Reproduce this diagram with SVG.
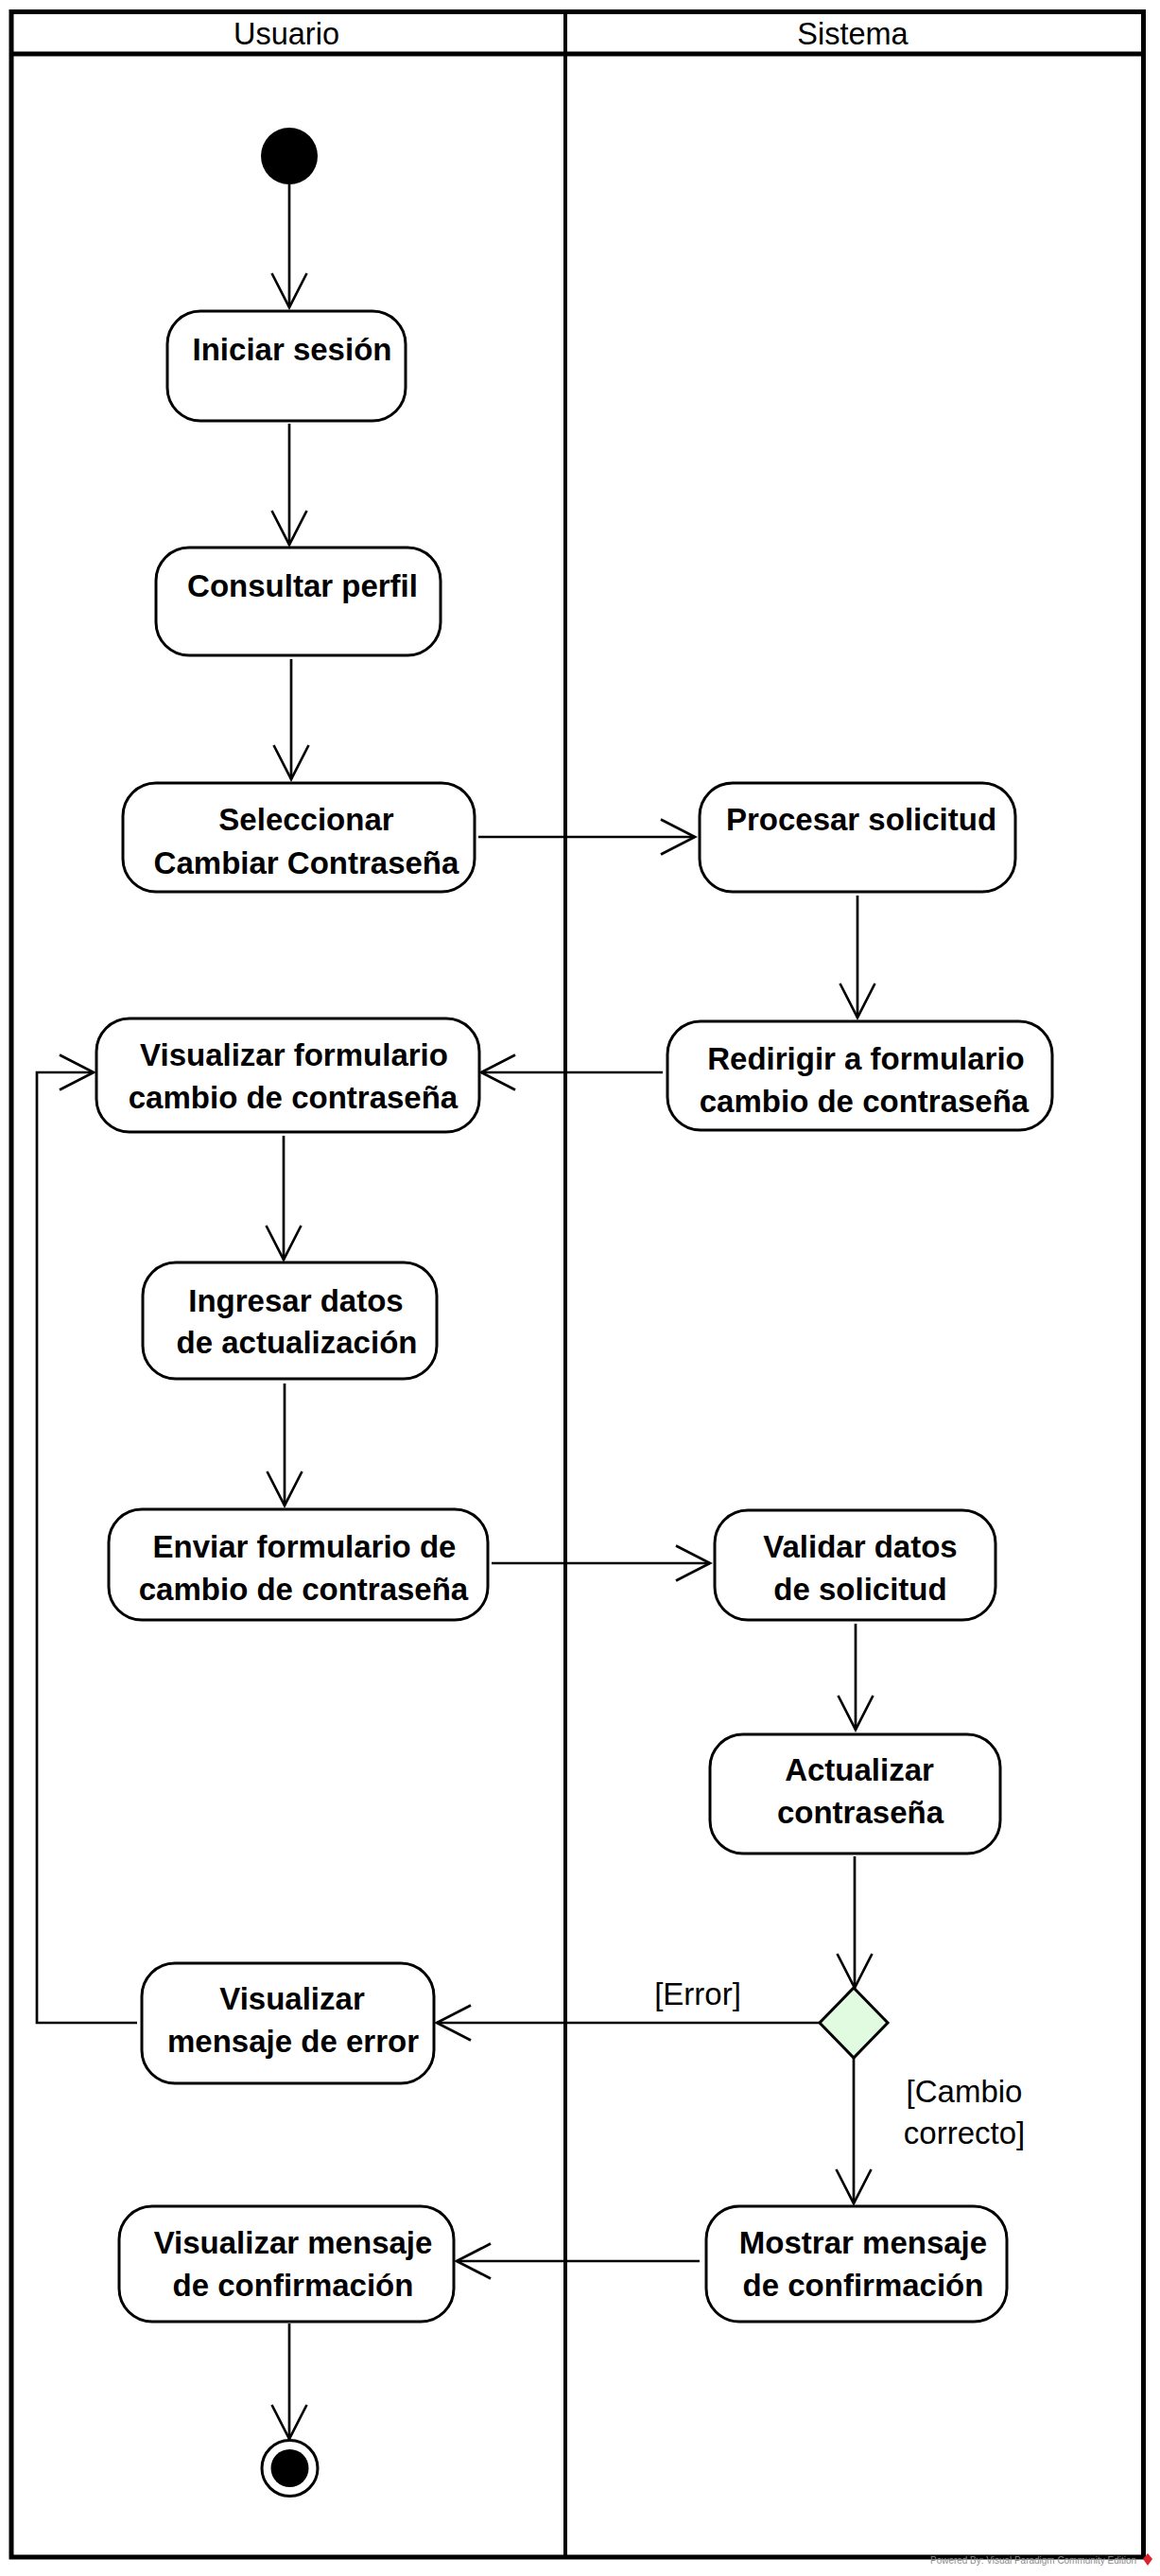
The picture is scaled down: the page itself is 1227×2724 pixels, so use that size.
<svg xmlns="http://www.w3.org/2000/svg" width="1227" height="2724" viewBox="0 0 1227 2724">
<style>
.lane{fill:none;stroke:#000;stroke-width:5}
.div{fill:none;stroke:#000;stroke-width:4}
.hdr{font-family:"Liberation Sans",Arial,sans-serif;font-size:32.5px;fill:#000;text-anchor:middle}
.act{fill:#fff;stroke:#000;stroke-width:3}
.t{font-family:"Liberation Sans",Arial,sans-serif;font-size:33px;font-weight:bold;fill:#000;text-anchor:middle}
.g{font-family:"Liberation Sans",Arial,sans-serif;font-size:33px;fill:#000;text-anchor:middle}
.c{fill:none;stroke:#000;stroke-width:2.7}
</style>
<defs>
<marker id="arr" markerUnits="userSpaceOnUse" markerWidth="44" markerHeight="44" viewBox="-40 -22 44 44" refX="0" refY="0" orient="auto" overflow="visible">
<path d="M-36,-18.5 L0,0 L-36,18.5" fill="none" stroke="#000" stroke-width="2.7"/>
</marker>
</defs>
<rect width="1227" height="2724" fill="#fff"/>
<g id="swimlanes">
<rect class="lane" x="12" y="12.5" width="1197.5" height="2691.5"/>
<line class="lane" x1="12" y1="57" x2="1209.5" y2="57"/>
<line class="div" x1="598" y1="12.5" x2="598" y2="2704"/>
<text class="hdr" x="303" y="47">Usuario</text>
<text class="hdr" x="902" y="47">Sistema</text>
</g>
<g id="connectors">
<path class="c" d="M306,195 V325" marker-end="url(#arr)"/>
<path class="c" d="M306,448 V576" marker-end="url(#arr)"/>
<path class="c" d="M308,697 V824" marker-end="url(#arr)"/>
<path class="c" d="M506,885 H735" marker-end="url(#arr)"/>
<path class="c" d="M907,947 V1076" marker-end="url(#arr)"/>
<path class="c" d="M701,1134 H509" marker-end="url(#arr)"/>
<path class="c" d="M300,1201 V1332" marker-end="url(#arr)"/>
<path class="c" d="M301,1463 V1592" marker-end="url(#arr)"/>
<path class="c" d="M520,1653 H751" marker-end="url(#arr)"/>
<path class="c" d="M905,1717 V1829" marker-end="url(#arr)"/>
<path class="c" d="M904,1963 V2102" marker-end="url(#arr)"/>
<path class="c" d="M867,2139 H462" marker-end="url(#arr)"/>
<text class="g" x="738" y="2120">[Error]</text>
<path class="c" d="M145,2139 H39 V1134 H99" marker-end="url(#arr)"/>
<path class="c" d="M903,2176 V2330" marker-end="url(#arr)"/>
<text class="g" x="1020" y="2223">[Cambio</text>
<text class="g" x="1020" y="2267">correcto]</text>
<path class="c" d="M740,2391 H483" marker-end="url(#arr)"/>
<path class="c" d="M306,2457 V2579" marker-end="url(#arr)"/>
</g>
<g id="start"><circle cx="306" cy="165" r="30" fill="#000"/></g>
<g id="iniciar">
<rect class="act" x="177" y="329" width="252" height="116" rx="35" ry="35"/>
<text class="t" x="309" y="381">Iniciar sesión</text>
</g>
<g id="consultar">
<rect class="act" x="165" y="579" width="301" height="114" rx="35" ry="35"/>
<text class="t" x="320" y="631">Consultar perfil</text>
</g>
<g id="seleccionar">
<rect class="act" x="130" y="828" width="372" height="115" rx="35" ry="35"/>
<text class="t" x="324" y="878">Seleccionar</text>
<text class="t" x="324" y="924">Cambiar Contraseña</text>
</g>
<g id="procesar">
<rect class="act" x="740" y="828" width="334" height="115" rx="35" ry="35"/>
<text class="t" x="911" y="878">Procesar solicitud</text>
</g>
<g id="visualizar-formulario">
<rect class="act" x="102" y="1077" width="405" height="120" rx="35" ry="35"/>
<text class="t" x="311" y="1127">Visualizar formulario</text>
<text class="t" x="310" y="1172">cambio de contraseña</text>
</g>
<g id="redirigir">
<rect class="act" x="706" y="1080" width="407" height="115" rx="35" ry="35"/>
<text class="t" x="916" y="1131">Redirigir a formulario</text>
<text class="t" x="914" y="1176">cambio de contraseña</text>
</g>
<g id="ingresar">
<rect class="act" x="151" y="1335" width="311" height="123" rx="35" ry="35"/>
<text class="t" x="313" y="1387">Ingresar datos</text>
<text class="t" x="314" y="1431">de actualización</text>
</g>
<g id="enviar">
<rect class="act" x="115" y="1596" width="401" height="117" rx="35" ry="35"/>
<text class="t" x="322" y="1647">Enviar formulario de</text>
<text class="t" x="321" y="1692">cambio de contraseña</text>
</g>
<g id="validar">
<rect class="act" x="756" y="1597" width="297" height="116" rx="35" ry="35"/>
<text class="t" x="910" y="1647">Validar datos</text>
<text class="t" x="910" y="1692">de solicitud</text>
</g>
<g id="actualizar">
<rect class="act" x="751" y="1834" width="307" height="126" rx="35" ry="35"/>
<text class="t" x="909" y="1883">Actualizar</text>
<text class="t" x="910" y="1928">contraseña</text>
</g>
<g id="decision">
<polygon points="903,2102 939,2139 903,2176 867,2139" fill="#e0fbe0" stroke="#000" stroke-width="3"/>
</g>
<g id="visualizar-error">
<rect class="act" x="150" y="2076" width="309" height="127" rx="35" ry="35"/>
<text class="t" x="309" y="2125">Visualizar</text>
<text class="t" x="310" y="2170">mensaje de error</text>
</g>
<g id="visualizar-confirmacion">
<rect class="act" x="126" y="2333" width="354" height="122" rx="35" ry="35"/>
<text class="t" x="310" y="2383">Visualizar mensaje</text>
<text class="t" x="310" y="2428">de confirmación</text>
</g>
<g id="mostrar">
<rect class="act" x="747" y="2333" width="318" height="122" rx="35" ry="35"/>
<text class="t" x="913" y="2383">Mostrar mensaje</text>
<text class="t" x="913" y="2428">de confirmación</text>
</g>
<g id="end">
<circle cx="306.5" cy="2610" r="29.5" fill="#fff" stroke="#000" stroke-width="3"/>
<circle cx="306.5" cy="2610" r="20" fill="#000"/>
</g>
<g id="watermark">
<text x="984" y="2711" font-family="'Liberation Sans',Arial,sans-serif" font-size="11" fill="#8a8a8a" textLength="218" lengthAdjust="spacingAndGlyphs">Powered By:  Visual Paradigm Community Edition</text>
<polygon points="1214,2700 1219,2706 1214,2713 1209,2706" fill="#d9252b"/>
</g>
</svg>
